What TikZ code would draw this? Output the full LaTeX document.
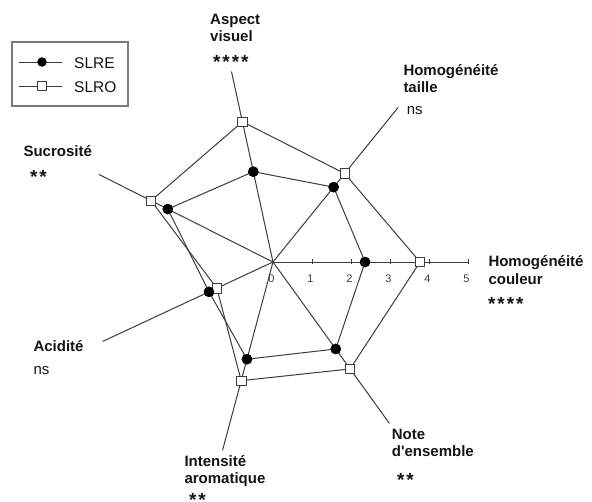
\documentclass[tikz,border=0pt]{standalone}
\usepackage{fontspec}
\setmainfont{Liberation Sans}
\newfontfamily\starfont[LetterSpace=10]{Liberation Sans}
\definecolor{ln}{HTML}{3C3C3C}
\definecolor{tx}{HTML}{141414}
\definecolor{bx}{HTML}{7A7A7A}
\begin{document}
\begin{tikzpicture}[x=1pt,y=-1pt,
  spoke/.style={draw=ln, line width=1pt},
  serie/.style={draw=ln, line width=1pt},
  dotmark/.style={circle, fill=black, inner sep=0pt, minimum size=10.5pt},
  sqmark/.style={rectangle, draw=ln, fill=white, inner sep=0pt, minimum size=9.5pt, line width=0.8pt},
  lgdot/.style={circle, fill=black, inner sep=0pt, minimum size=9.5pt},
  lgsq/.style={rectangle, draw=ln, fill=white, inner sep=0pt, minimum size=8.5pt, line width=0.8pt},
  lab/.style={font=\fontsize{15}{17.7}\selectfont\bfseries, text=tx, align=left, inner sep=0pt, anchor=base west},
  sig/.style={font=\fontsize{15}{17.7}\selectfont, text=tx, inner sep=0pt, anchor=base west},
  stars/.style={font=\fontsize{19}{19}\selectfont\starfont\bfseries, text=tx, inner sep=0pt, anchor=base west},
  ticklab/.style={font=\fontsize{11}{11}\selectfont, text=ln, inner sep=0pt, anchor=base},
  lgtext/.style={font=\fontsize{15.5}{16}\selectfont, text=tx, inner sep=0pt, anchor=base west},
  tick/.style={draw=ln, line width=0.8pt}
]
\useasboundingbox (0,0) rectangle (592,501);
\coordinate (O) at (273,262);
\begin{scope}[shift={(O)}, x=39pt, y=39pt]
  % axis ends
  \coordinate (a1) at (0:5);
  \coordinate (a2) at (51:5.1);
  \coordinate (a3) at (102.3:5);
  \coordinate (a4) at (153.3:5);
  \coordinate (a5) at (205:4.82);
  \coordinate (a6) at (255:5);
  \coordinate (a7) at (305.8:5.1);
  \foreach \i in {1,...,7} \draw[spoke] (O) -- (a\i);
  % ticks
  \foreach \k in {1,...,5} {
    \coordinate (t\k a) at (\k,-0.05);
    \coordinate (t\k b) at (\k,0.08);
    \draw[tick] (t\k a) -- (t\k b);
  }
  \foreach \k in {0,...,5} \node[ticklab] (tl\k) at (\k-0.04,-0.53) {\k};
  % SLRE
  \node[dotmark] (e1) at (0:2.36) {};
  \node[dotmark] (e2) at (51:2.47) {};
  \node[dotmark] (e3) at (102.3:2.37) {};
  \node[dotmark] (e4) at (153.3:3.02) {};
  \node[dotmark] (e5) at (205:1.81) {};
  \node[dotmark] (e6) at (255:2.58) {};
  \node[dotmark] (e7) at (305.8:2.75) {};
  % SLRO
  \node[sqmark] (o1) at (0:3.77) {};
  \node[sqmark] (o2) at (51:2.92) {};
  \node[sqmark] (o3) at (102.3:3.68) {};
  \node[sqmark] (o4) at (153.3:3.5) {};
  \node[sqmark] (o5) at (205:1.59) {};
  \node[sqmark] (o6) at (255:3.15) {};
  \node[sqmark] (o7) at (305.8:3.38) {};
\end{scope}
% polygons (drawn then markers redrawn on top)
\draw[serie] (o1.center) -- (o2.center) -- (o3.center) -- (o4.center) -- (o5.center) -- (o6.center) -- (o7.center) -- cycle;
\draw[serie] (e1.center) -- (e2.center) -- (e3.center) -- (e4.center) -- (e5.center) -- (e6.center) -- (e7.center) -- cycle;
\foreach \i in {1,...,7} {
  \node[sqmark] at (o\i.center) {};
  \node[dotmark] at (e\i.center) {};
}
% labels
\node[lab] (lAsp) at (210,41.7) {Aspect\\visuel};
\node[stars] (sAsp) at (213,68.4) {****};
\node[lab] (lHt) at (403.3,92.7) {Homogénéité\\taille};
\node[sig] (sHt) at (406.7,114) {ns};
\node[lab] (lHc) at (488.3,284.4) {Homogénéité\\couleur};
\node[stars] (sHc) at (488,310.1) {****};
\node[lab] (lNo) at (391.7,456.7) {Note\\d\textquotesingle ensemble};
\node[stars] (sNo) at (397,486.1) {**};
\node[lab] (lIn) at (184.3,483.7) {Intensité\\aromatique};
\node[stars] (sIn) at (189,506.5) {**};
\node[lab] (lAc) at (33.3,351.7) {Acidité};
\node[sig] (sAc) at (33.3,374) {ns};
\node[lab] (lSu) at (23.3,156) {Sucrosité};
\node[stars] (sSu) at (30,183.4) {**};
% legend
\draw[draw=bx, line width=1.3pt] (12,42) rectangle (128,106);
\coordinate (lgE1) at (19,62);
\coordinate (lgE2) at (62,62);
\coordinate (lgO1) at (19,86);
\coordinate (lgO2) at (62,86);
\draw[serie] (lgE1) -- (lgE2);
\draw[serie] (lgO1) -- (lgO2);
\node[lgdot] (lgE) at (42,62) {};
\node[lgsq] (lgO) at (42,86) {};
\node[lgtext] (lgEt) at (74,68.3) {SLRE};
\node[lgtext] (lgOt) at (74,92.3) {SLRO};
\end{tikzpicture}
\end{document}
